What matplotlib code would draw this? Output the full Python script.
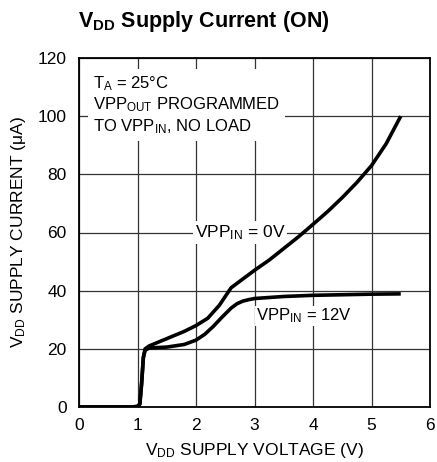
import matplotlib
matplotlib.use("Agg")
import matplotlib.pyplot as plt

# %% Data
v_0v = [0.0, 0.9, 1.0, 1.04, 1.07, 1.1, 1.13, 1.2, 1.5, 1.8, 2.0, 2.2, 2.4, 2.6, 2.8, 3.0,
        3.25, 3.5, 3.75, 4.0, 4.25, 4.5, 4.75, 5.0, 5.25, 5.5]
i_0v = [0.0, 0.0, 0.2, 1.0, 8.0, 17.0, 20.0, 21.0, 23.5, 26.0, 28.0, 30.5, 35.0, 41.0, 44.0, 47.0,
        50.5, 54.5, 58.5, 62.8, 67.2, 72.0, 77.2, 83.0, 90.5, 100.0]

v_12v = [0.0, 0.9, 1.0, 1.04, 1.07, 1.1, 1.13, 1.2, 1.5, 1.8, 2.0, 2.15, 2.3, 2.45, 2.6, 2.7,
         2.8, 2.9, 3.0, 3.5, 4.0, 4.5, 5.0, 5.5]
i_12v = [0.0, 0.0, 0.2, 1.0, 8.0, 17.0, 19.5, 20.3, 20.6, 21.5, 23.0, 25.0, 27.8, 31.0, 34.0, 35.5,
         36.4, 36.9, 37.3, 38.0, 38.4, 38.6, 38.8, 38.9]

x_ticks = [0, 1, 2, 3, 4, 5, 6]
y_ticks = [0, 20, 40, 60, 80, 100, 120]

# %% Fonts
plt.rcParams["font.family"] = ["Liberation Sans", "DejaVu Sans"]
plt.rcParams["mathtext.default"] = "regular"

fig = plt.figure(figsize=(4.37, 4.62), dpi=100)
ax = fig.add_axes([79 / 437, 55 / 462, 351 / 437, 349 / 462])

ax.plot(v_0v, i_0v, color="black", lw=2.6, solid_capstyle="butt", solid_joinstyle="round", zorder=3)
ax.plot(v_12v, i_12v, color="black", lw=2.6, solid_capstyle="butt", solid_joinstyle="round", zorder=3)

ax.set_xlim(0, 6)
ax.set_ylim(0, 120)
ax.set_xticks(x_ticks)
ax.set_yticks(y_ticks)
ax.tick_params(axis="x", length=0, labelsize=12.5, pad=8)
ax.tick_params(axis="y", length=0, labelsize=12.5, pad=9)
ax.grid(True, color="#333333", lw=0.9)
ax.set_axisbelow(True)
for s in ax.spines.values():
    s.set_linewidth(1.3)

ax.set_xlabel("V$_{DD}$ SUPPLY VOLTAGE (V)", fontsize=12.5, labelpad=6)
ax.set_ylabel("V$_{DD}$ SUPPLY CURRENT (\u03bcA)", fontsize=12.5, labelpad=7)
fig.text(78 / 437, 1 - 22 / 462, "V$_{DD}$ Supply Current (ON)", fontsize=15.5,
         fontweight="bold", va="center", ha="left")

# note box covering gridlines
ax.text(0.24, 114.5, "T$_A$ = 25\u00b0C\nVPP$_{OUT}$ PROGRAMMED\nTO VPP$_{IN}$, NO LOAD",
        fontsize=12, va="top", ha="left", linespacing=1.2, zorder=4,
        bbox=dict(boxstyle="square,pad=0.3", fc="white", ec="none"))

ax.text(1.98, 60, "VPP$_{IN}$ = 0V", fontsize=12.5, va="center", ha="left", zorder=2,
        bbox=dict(boxstyle="square,pad=0.1", fc="white", ec="none"))
ax.text(3.02, 31.3, "VPP$_{IN}$ = 12V", fontsize=12, va="center", ha="left", zorder=2,
        bbox=dict(boxstyle="square,pad=0.05", fc="white", ec="none"))

fig.savefig("out.png", dpi=100)
